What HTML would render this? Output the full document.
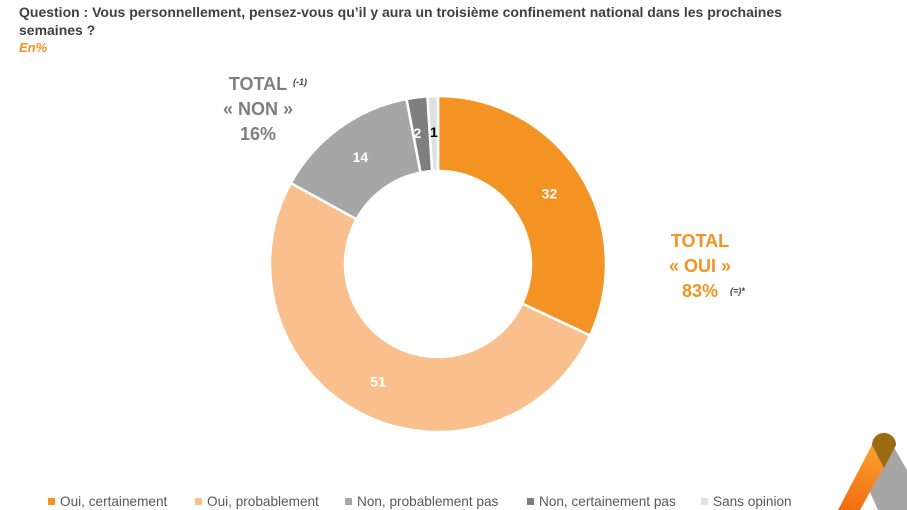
<!DOCTYPE html>
<html><head><meta charset="utf-8"><style>
body{margin:0;width:907px;height:510px;background:#fff;font-family:"Liberation Sans",sans-serif;position:relative;overflow:hidden}
.t{position:absolute;left:19px;top:3px;font-size:14px;font-weight:bold;color:#404040;line-height:18px;width:800px}
.en{position:absolute;left:19px;top:40px;font-size:13px;font-weight:bold;font-style:italic;color:#F39323}
.lg{position:absolute;top:494px;font-size:13.6px;color:#595959;white-space:nowrap}
.lg i{display:inline-block;width:7px;height:7px;margin-right:5px;vertical-align:1px}
.ab{position:absolute;font-weight:bold;text-align:center}
</style></head><body>
<div class="t">Question : Vous personnellement, pensez-vous qu’il y aura un troisième confinement national dans les prochaines semaines ?</div>
<div class="en">En%</div>
<svg id="s" width="907" height="510" style="position:absolute;left:0;top:0">
<defs><linearGradient id="g1" x1="0" y1="1" x2="0.3" y2="0"><stop offset="0" stop-color="#F26B0F"/><stop offset="1" stop-color="#F9A332"/></linearGradient></defs>
<path d="M885 432 L907 470 L907 510 L878 510 L860 470 Z" fill="#A6A6A6"/>
<path d="M872 445 A12 12 0 0 1 896 445 L860 510 L838 510 Z" fill="url(#g1)"/>
<path d="M872 445 A12 12 0 0 1 896 445 L884 468 Z" fill="#9C6A10"/>
</svg>
<div class="ab" style="left:213px;top:72px;font-size:18px;color:#7F7F7F;line-height:25px;width:90px">TOTAL<br>« NON »<br>16%</div>
<div class="ab" style="left:293px;top:77px;font-size:9px;font-style:italic;color:#404040">(-1)</div>
<div class="ab" style="left:655px;top:229px;font-size:18px;color:#F39323;line-height:25px;width:90px">TOTAL<br>« OUI »<br>83%</div>
<div class="ab" style="left:730px;top:286px;font-size:9px;font-style:italic;color:#404040">(=)*</div>
<div class="lg" style="left:48px"><i style="background:#F39323"></i>Oui, certainement</div>
<div class="lg" style="left:195px"><i style="background:#F9C08E"></i>Oui, probablement</div>
<div class="lg" style="left:345px"><i style="background:#A6A6A6"></i>Non, probablement pas</div>
<div class="lg" style="left:527px"><i style="background:#7F7F7F"></i>Non, certainement pas</div>
<div class="lg" style="left:701px"><i style="background:#E0E0E0"></i>Sans opinion</div>
<script>
var s=document.getElementById('s'),cx=438,cy=264,R=168,r=93;
var d=[[32,'#F39323','#fff',0],[51,'#F9C08E','#fff',0],[14,'#A6A6A6','#fff',0],[2,'#7F7F7F','#fff',-4],[1,'#E0E0E0','#000',0]];
var a=0,ns='http://www.w3.org/2000/svg';
function p(rad,ang){return [cx+rad*Math.sin(ang),cy-rad*Math.cos(ang)];}
d.forEach(function(e){var a0=a*2*Math.PI/100,a1=(a+e[0])*2*Math.PI/100;var L=e[0]>50?1:0;
var A=p(R,a0),B=p(R,a1),C=p(r,a1),D=p(r,a0);
var pa=document.createElementNS(ns,'path');
pa.setAttribute('d','M'+A+' A'+R+' '+R+' 0 '+L+' 1 '+B+' L'+C+' A'+r+' '+r+' 0 '+L+' 0 '+D+'Z');
pa.setAttribute('fill',e[1]);pa.setAttribute('stroke','#fff');pa.setAttribute('stroke-width','2.5');s.appendChild(pa);
var m=(a0+a1)/2,rr=132,q=p(rr,m);
var t=document.createElementNS(ns,'text');t.setAttribute('x',q[0]+e[3]);t.setAttribute('y',q[1]+5);
t.setAttribute('text-anchor','middle');t.setAttribute('font-size','14');t.setAttribute('font-weight','bold');
t.setAttribute('fill',e[2]);t.setAttribute('font-family','Liberation Sans,sans-serif');t.textContent=e[0];s.appendChild(t);
a+=e[0];});
</script>
</body></html>
